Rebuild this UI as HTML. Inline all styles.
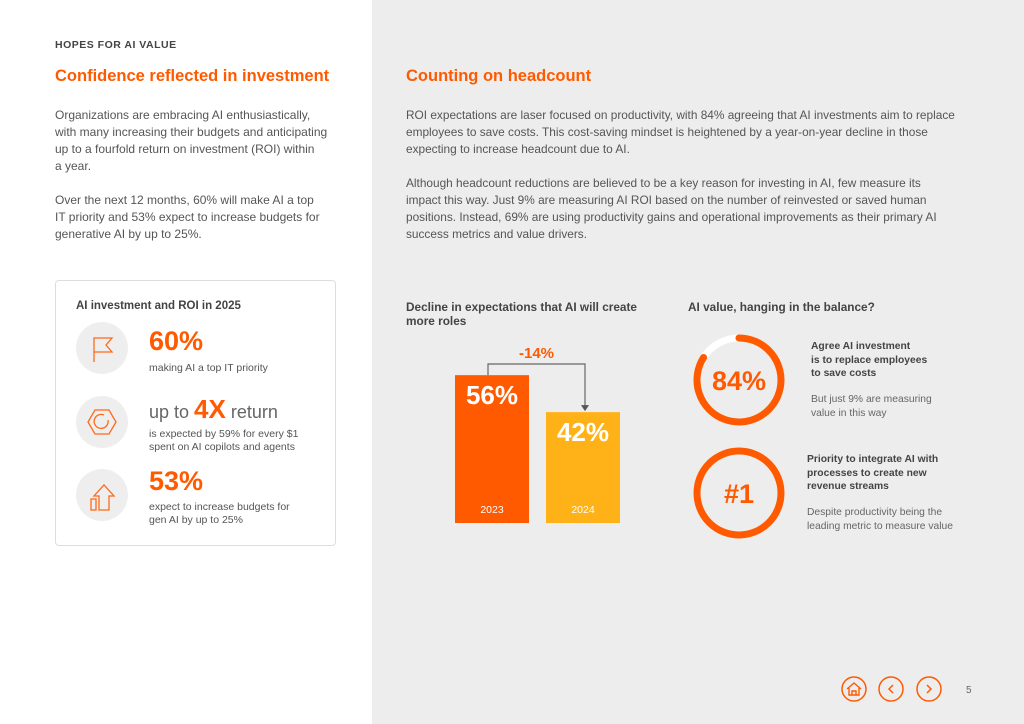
<!DOCTYPE html>
<html><head><meta charset="utf-8">
<style>
*{margin:0;padding:0;box-sizing:border-box}
body{width:1024px;height:724px;position:relative;background:#fff;font-family:"Liberation Sans",sans-serif;color:#505050;overflow:hidden}
.a{position:absolute;white-space:nowrap}
.p{font-size:12px;line-height:17px;color:#555}
.h2{font-size:16.5px;font-weight:bold;color:#ff5a00}
.lbl{font-size:11.5px;font-weight:bold;color:#444;line-height:14px}
</style></head><body>
<div class="a" style="left:372px;top:0;width:652px;height:724px;background:#ededed"></div>

<div class="a" style="left:55px;top:39px;font-size:10.5px;font-weight:bold;letter-spacing:0.5px;color:#444">HOPES FOR AI VALUE</div>
<div class="a h2" style="left:55px;top:67px">Confidence reflected in investment</div>
<div class="a p" style="left:55px;top:107px">Organizations are embracing AI enthusiastically,<br>with many increasing their budgets and anticipating<br>up to a fourfold return on investment (ROI) within<br>a year.</div>
<div class="a p" style="left:55px;top:192px">Over the next 12 months, 60% will make AI a top<br>IT priority and 53% expect to increase budgets for<br>generative AI by up to 25%.</div>

<div class="a" style="left:55px;top:280px;width:281px;height:266px;border:1px solid #ddd;border-radius:4px;background:#fff"></div>
<div class="a lbl" style="left:76px;top:299px;font-size:11.5px">AI investment and ROI in 2025</div>

<svg class="a" style="left:0;top:0" width="372" height="560">
<circle cx="102" cy="348" r="26" fill="#eeeeee"/>
<circle cx="102" cy="422" r="26" fill="#eeeeee"/>
<circle cx="102" cy="495" r="26" fill="#eeeeee"/>
<path d="M94 362 V338 H112 L106 345 L112 352 H94" fill="none" stroke="#ff6a1a" stroke-width="1.3"/>
<polygon points="88,422 95,410 109,410 116,422 109,434 95,434" fill="none" stroke="#ff6a1a" stroke-width="1.3"/>
<path d="M108 420 A7 7 0 1 1 104 415" fill="none" stroke="#ff6a1a" stroke-width="1.3"/>
<path d="M99 510 V496 H94 L104 485 L114 496 H109 V510 Z" fill="none" stroke="#ff6a1a" stroke-width="1.3"/>
<rect x="91" y="499" width="5" height="11" fill="none" stroke="#ff6a1a" stroke-width="1.3"/>
</svg>
<div class="a" style="left:149px;top:326px;font-size:27px;font-weight:bold;color:#ff5a00">60%</div>
<div class="a" style="left:149px;top:362px;font-size:10.5px;color:#555">making AI a top IT priority</div>
<div class="a" style="left:149px;top:394px;font-size:18px;color:#666">up to <b style="font-size:26px;color:#ff5a00">4X</b> return</div>
<div class="a" style="left:149px;top:428px;font-size:10.5px;line-height:13px;color:#555">is expected by 59% for every $1<br>spent on AI copilots and agents</div>
<div class="a" style="left:149px;top:466px;font-size:27px;font-weight:bold;color:#ff5a00">53%</div>
<div class="a" style="left:149px;top:501px;font-size:10.5px;line-height:13px;color:#555">expect to increase budgets for<br>gen AI by up to 25%</div>

<div class="a h2" style="left:406px;top:67px">Counting on headcount</div>
<div class="a p" style="left:406px;top:107px;font-size:11.85px">ROI expectations are laser focused on productivity, with 84% agreeing that AI investments aim to replace<br>employees to save costs. This cost-saving mindset is heightened by a year-on-year decline in those<br>expecting to increase headcount due to AI.</div>
<div class="a p" style="left:406px;top:175px;font-size:11.85px">Although headcount reductions are believed to be a key reason for investing in AI, few measure its<br>impact this way. Just 9% are measuring AI ROI based on the number of reinvested or saved human<br>positions. Instead, 69% are using productivity gains and operational improvements as their primary AI<br>success metrics and value drivers.</div>

<div class="a lbl" style="left:406px;top:300px;font-size:11.8px">Decline in expectations that AI will create<br>more roles</div>
<div class="a lbl" style="left:688px;top:300px;font-size:11.8px">AI value, hanging in the balance?</div>

<svg class="a" id="bars" style="left:0;top:0" width="700" height="560"></svg>

<svg class="a" id="rings" style="left:0;top:0" width="1024" height="560"></svg>
<div class="a lbl" style="left:811px;top:340px;font-size:10.3px;line-height:13.5px">Agree AI investment<br>is to replace employees<br>to save costs</div>
<div class="a" style="left:811px;top:393px;font-size:10.3px;line-height:13.5px;color:#666">But just 9% are measuring<br>value in this way</div>
<div class="a lbl" style="left:807px;top:453px;font-size:10.3px;line-height:13.5px">Priority to integrate AI with<br>processes to create new<br>revenue streams</div>
<div class="a" style="left:807px;top:506px;font-size:10.3px;line-height:13.5px;color:#666">Despite productivity being the<br>leading metric to measure value</div>

<svg class="a" style="left:830px;top:670px" width="150" height="40">
<g><circle cx="24" cy="19" r="12" fill="none" stroke="#ff5a00" stroke-width="1.5"/><path d="M17 19 L24 13 L31 19 M19 18 V25 H29 V18 M22 25 V21 H26 V25" fill="none" stroke="#ff5a00" stroke-width="1.4"/></g>
<g><circle cx="61" cy="19" r="12" fill="none" stroke="#ff5a00" stroke-width="1.5"/><path d="M63 15 L59 19 L63 23" fill="none" stroke="#ff5a00" stroke-width="1.5"/></g>
<g><circle cx="99" cy="19" r="12" fill="none" stroke="#ff5a00" stroke-width="1.5"/><path d="M97 15 L101 19 L97 23" fill="none" stroke="#ff5a00" stroke-width="1.5"/></g>
<text x="136" y="23" font-size="10" fill="#666" font-family="Liberation Sans">5</text>
</svg>

<script>
const years=["2023","2024"];
const values=[56,42];
const barColors=["#ff5a00","#ffb217"];
const changeLabel="-14%";
const ringValues=[84,100];
const ringLabels=["84%","#1"];
const NS="http://www.w3.org/2000/svg";
function mk(t,a,p){const e=document.createElementNS(NS,t);for(const k in a)e.setAttribute(k,a[k]);p.appendChild(e);return e;}
const bars=document.getElementById('bars');
const base=523, k=2.64;
const y=v=>base-v*k;
const xs=i=>455+i*91;
const bw=74;
years.forEach((yr,i)=>{
  const r=mk('rect',{x:xs(i),y:y(values[i]),width:bw,height:values[i]*k,fill:barColors[i]},bars);
  
  
  const t=mk('text',{x:xs(i)+bw/2,y:y(values[i])+29,'text-anchor':'middle','font-size':26,'font-weight':'bold',fill:'#fff','font-family':'Liberation Sans'},bars);
  t.textContent=values[i]+'%';
  
  
  const l=mk('text',{x:xs(i)+bw/2,y:base-10,'text-anchor':'middle','font-size':10.5,fill:'#fff','font-family':'Liberation Sans'},bars);
  l.textContent=yr;
  
  
});
const cx0=xs(0)+bw/2-4, cx1=xs(1)+bw/2+2, topY=364;
const arrow=mk('path',{d:`M${cx0} ${y(values[0])} V${topY} H${cx1} V${y(values[1])-6}`,fill:'none',stroke:'#666','stroke-width':1.2},bars);


const head=mk('path',{d:`M${cx1-4} ${y(values[1])-7} L${cx1+4} ${y(values[1])-7} L${cx1} ${y(values[1])-1} Z`,fill:'#555'},bars);


const cl=mk('text',{x:(cx0+cx1)/2,y:topY-6,'text-anchor':'middle','font-size':15,'font-weight':'bold',fill:'#ff5a00','font-family':'Liberation Sans'},bars);
cl.textContent=changeLabel;



const rings=document.getElementById('rings');
const centers=[[739,380],[739,493]];
const R=42;
ringValues.forEach((v,i)=>{
  const [cx,cy]=centers[i];
  const bg=mk('circle',{cx,cy,r:R,fill:'none',stroke:'#fff','stroke-width':7},rings);
  
  
  let arc;
  if(v>=100){
    arc=mk('circle',{cx,cy,r:R,fill:'none',stroke:'#ff5a00','stroke-width':7},rings);
  } else {
    const a=v/100*2*Math.PI;
    const x2=cx+R*Math.sin(a), y2=cy-R*Math.cos(a);
    arc=mk('path',{d:`M${cx} ${cy-R} A${R} ${R} 0 ${v>50?1:0} 1 ${x2} ${y2}`,fill:'none',stroke:'#ff5a00','stroke-width':7,'stroke-linecap':'round'},rings);
  }
  
  
  const t=mk('text',{x:cx,y:cy+10,'text-anchor':'middle','font-size':27,'font-weight':'bold',fill:'#ff5a00','font-family':'Liberation Sans'},rings);
  t.textContent=ringLabels[i];
  
  
});
</script>
</body></html>
